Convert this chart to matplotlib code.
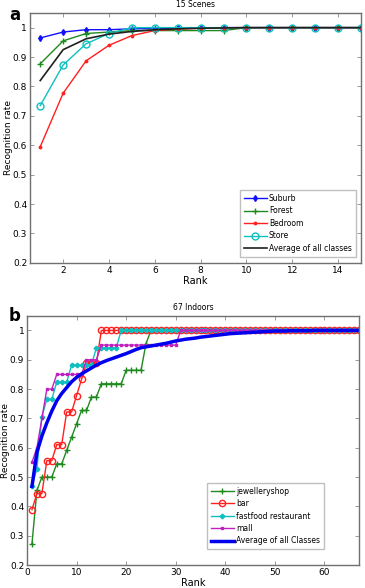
"""
Recognition rate vs. rank: 15 Scenes (a) and 67 Indoors (b)
"""

import numpy as np
import matplotlib
matplotlib.use('Agg')
import matplotlib.pyplot as plt

# ─────────────────────────────────────────────
# Datos panel a: 15 Scenes
# ─────────────────────────────────────────────
rank_a = list(range(1, 16))
suburb = [0.965, 0.985, 0.993, 0.993, 0.996, 0.997, 0.998, 0.999, 1, 1, 1, 1, 1, 1, 1]
forest = [0.877, 0.955, 0.980, 0.985, 0.990, 0.990, 0.990, 0.990, 0.990, 1, 1, 1, 1, 1, 1]
bedroom = [0.595, 0.777, 0.887, 0.940, 0.973, 0.990, 0.995, 0.998, 1, 1, 1, 1, 1, 1, 1]
store = [0.735, 0.873, 0.945, 0.980, 1, 1, 1, 1, 1, 1, 1, 1, 1, 1, 1]
avg_a = [0.820, 0.925, 0.962, 0.978, 0.987, 0.993, 0.996, 0.998, 0.999, 1, 1, 1, 1, 1, 1]

# ─────────────────────────────────────────────
# Datos panel b: 67 Indoors (mesetas)
# ─────────────────────────────────────────────
rank_b = list(range(1, 68))
jewellery = ([0.273, 0.455] + [0.5] * 3 + [0.545] * 2 + [0.591, 0.636, 0.682]
             + [0.727] * 2 + [0.773] * 2 + [0.818] * 5 + [0.864] * 4 + [0.955]
             + [1.0] * 43)
bar = ([0.389] + [0.444] * 2 + [0.556] * 2 + [0.611] * 2 + [0.722] * 2
       + [0.778, 0.833] + [0.889] * 3 + [1.0] * 53)
fastfood = ([0.471, 0.529, 0.706] + [0.765] * 2 + [0.824] * 3 + [0.882] * 5
            + [0.941] * 5 + [1.0] * 49)
mall = ([0.55, 0.60, 0.70] + [0.80] * 2 + [0.85] * 6 + [0.90] * 3
        + [0.95] * 16 + [1.0] * 37)
avg_b = [0.468, 0.585, 0.640, 0.685, 0.725, 0.760, 0.785, 0.805, 0.825, 0.840,
         0.852, 0.862, 0.872, 0.882, 0.890, 0.897, 0.903, 0.909, 0.915, 0.921,
         0.928, 0.935, 0.941, 0.944, 0.947, 0.950, 0.953, 0.956, 0.960, 0.964,
         0.967, 0.970, 0.972, 0.974, 0.977, 0.979, 0.981, 0.983, 0.985, 0.987,
         0.989, 0.990, 0.991, 0.992, 0.993, 0.994, 0.995, 0.996, 0.997, 0.998,
         0.998, 0.998, 0.999, 0.999, 0.999, 0.999, 0.999, 1.0, 1.0, 1.0,
         1.0, 1.0, 1.0, 1.0, 1.0, 1.0, 1.0]

yticks = [0.2, 0.3, 0.4, 0.5, 0.6, 0.7, 0.8, 0.9, 1.0]
ytick_labels = ['0.2', '0.3', '0.4', '0.5', '0.6', '0.7', '0.8', '0.9', '1']

C_BLUE = '#1010ff'
C_GREEN = '#1f8a1f'
C_RED = '#ff2020'
C_CYAN = '#10c0c0'
C_MAG = '#c020c0'
SPINE = '#707070'


def style_axes(ax):
    ax.set_yticks(yticks)
    ax.set_yticklabels(ytick_labels)
    ax.set_ylim(0.2, 1.05)
    ax.tick_params(direction='in', top=True, right=True, labelsize=6.5,
                   length=3, width=0.5, color=SPINE, pad=2)
    for s in ax.spines.values():
        s.set_color(SPINE)
        s.set_linewidth(1.0)
    ax.set_xlabel('Rank', fontsize=7, labelpad=1)
    ax.set_ylabel('Recognition rate', fontsize=6.5, labelpad=0)


fig = plt.figure(figsize=(3.65, 5.88), dpi=100)

# Panel a
ax1 = fig.add_axes([0.082, 0.553, 0.907, 0.425])
ax1.plot(rank_a, suburb, '-d', color=C_BLUE, ms=3, lw=1, label='Suburb')
ax1.plot(rank_a, forest, '-+', color=C_GREEN, ms=4, mew=1, lw=1, label='Forest')
ax1.plot(rank_a, bedroom, marker='.', linestyle='-', color=C_RED, ms=3.5, lw=1,
         label='Bedroom')
ax1.plot(rank_a, store, '-o', color=C_CYAN, ms=5, mfc='none', mew=1, lw=1, label='Store')
ax1.plot(rank_a, avg_a, '-', color='#202020', lw=1.2, label='Average of all classes')
ax1.set_xlim(0.55, 15)
ax1.set_xticks([2, 4, 6, 8, 10, 12, 14])
style_axes(ax1)
ax1.set_title('15 Scenes', fontsize=5.5, pad=4)
ax1.legend(loc='lower right', bbox_to_anchor=(0.995, 0.01), fontsize=5.5,
           handlelength=3, labelspacing=0.45, borderpad=0.5, handletextpad=0.3,
           fancybox=False, framealpha=1, edgecolor='#c0c0c0')
fig.text(0.025, 0.975, 'a', fontsize=12, fontweight='bold', va='center')

# Panel b
ax2 = fig.add_axes([0.074, 0.039, 0.910, 0.424])
ax2.plot(rank_b, jewellery, '-+', color=C_GREEN, ms=4, mew=1, lw=1, label='jewelleryshop')
ax2.plot(rank_b, bar, '-o', color=C_RED, ms=4.5, mfc='none', mew=1, lw=1, label='bar')
ax2.plot(rank_b, fastfood, '-P', color=C_CYAN, ms=3, lw=1, label='fastfood restaurant')
ax2.plot(rank_b, mall, '-s', color=C_MAG, ms=1.8, lw=1, label='mall')
ax2.plot(rank_b, avg_b, '-', color='#0000ee', lw=2.5, label='Average of all Classes')
ax2.set_xlim(0, 67)
ax2.set_xticks([0, 10, 20, 30, 40, 50, 60])
style_axes(ax2)
ax2.set_title('67 Indoors', fontsize=5.5, pad=4)
ax2.legend(loc='lower left', bbox_to_anchor=(0.53, 0.048), fontsize=5.5,
           handlelength=3, labelspacing=0.45, borderpad=0.5, handletextpad=0.3,
           fancybox=False, framealpha=1, edgecolor='#c0c0c0')
fig.text(0.025, 0.463, 'b', fontsize=12, fontweight='bold', va='center')

fig.savefig('out.png', dpi=100)
